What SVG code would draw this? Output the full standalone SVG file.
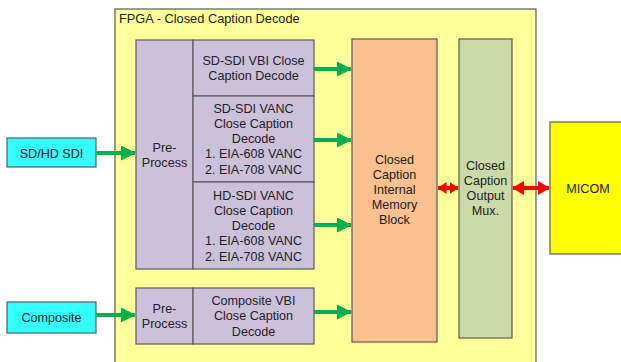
<svg xmlns="http://www.w3.org/2000/svg" width="621" height="362" viewBox="0 0 621 362">
  <style>
    .box { stroke: #5a5a5a; stroke-width: 1.2; }
    .fpga { fill: #ffff99; }
    .pre { fill: #ccc1da; }
    .mem { fill: #fac090; }
    .mux { fill: #ccdaaa; }
    .src { fill: #33ffff; }
    .micom { fill: #ffff00; }
    text { font-family: "Liberation Sans", Arial, sans-serif; font-size: 12.6px; fill: #222; text-anchor: middle; }
    .title { text-anchor: start; font-size: 12.8px; }
    .flow { stroke: #00b050; stroke-width: 4; fill: none; }
    .bus { stroke: #ff0000; stroke-width: 4; fill: none; }
  </style>
  <defs>
    <marker id="greenHead" markerUnits="userSpaceOnUse" markerWidth="15" markerHeight="15" refX="14" refY="7.5" orient="auto">
      <path d="M0,0 L15,7.5 L0,15 Z" fill="#00b050"/>
    </marker>
    <marker id="redHead" markerUnits="userSpaceOnUse" markerWidth="12" markerHeight="14" refX="11" refY="7" orient="auto-start-reverse">
      <path d="M0,0 L12,7 L0,14 Z" fill="#ff0000"/>
    </marker>
    <marker id="redHeadSmall" markerUnits="userSpaceOnUse" markerWidth="9" markerHeight="12" refX="8.5" refY="6" orient="auto-start-reverse">
      <path d="M0,0 L9,6 L0,12 Z" fill="#ff0000"/>
    </marker>
  </defs>

  <!-- FPGA container -->
  <g id="fpga">
    <rect class="box fpga" x="115" y="9" width="421" height="360"/>
    <text class="title" x="119" y="23">FPGA - Closed Caption Decode</text>
  </g>

  <!-- SDI pre-processing and decoders -->
  <g id="sdi-preprocess">
    <rect class="box pre" x="136" y="40" width="57" height="229"/>
    <text x="164.5" y="151.5">Pre-</text>
    <text x="164.5" y="166.5">Process</text>
  </g>
  <g id="sd-vbi-decode">
    <rect class="box pre" x="193" y="40" width="121" height="56"/>
    <text x="253.5" y="64.5">SD-SDI VBI Close</text>
    <text x="253.5" y="79.5">Caption Decode</text>
  </g>
  <g id="sd-vanc-decode">
    <rect class="box pre" x="193" y="96" width="121" height="86"/>
    <text x="253.5" y="112.5">SD-SDI VANC</text>
    <text x="253.5" y="127.8">Close Caption</text>
    <text x="253.5" y="143">Decode</text>
    <text x="253.5" y="158.2">1. EIA-608 VANC</text>
    <text x="253.5" y="173.5">2. EIA-708 VANC</text>
  </g>
  <g id="hd-vanc-decode">
    <rect class="box pre" x="193" y="182" width="121" height="87"/>
    <text x="253.5" y="199.5">HD-SDI VANC</text>
    <text x="253.5" y="214.8">Close Caption</text>
    <text x="253.5" y="230">Decode</text>
    <text x="253.5" y="245.2">1. EIA-608 VANC</text>
    <text x="253.5" y="260.5">2. EIA-708 VANC</text>
  </g>

  <!-- Composite pre-processing and decoder -->
  <g id="composite-preprocess">
    <rect class="box pre" x="136" y="288" width="57" height="56"/>
    <text x="164.5" y="312.5">Pre-</text>
    <text x="164.5" y="327.5">Process</text>
  </g>
  <g id="composite-vbi-decode">
    <rect class="box pre" x="193" y="288" width="121" height="56"/>
    <text x="253.5" y="304.5">Composite VBI</text>
    <text x="253.5" y="320">Close Caption</text>
    <text x="253.5" y="335.5">Decode</text>
  </g>

  <!-- Memory and output mux -->
  <g id="memory-block">
    <rect class="box mem" x="352" y="39" width="85" height="303"/>
    <text x="394.5" y="163.5">Closed</text>
    <text x="394.5" y="178.5">Caption</text>
    <text x="394.5" y="193.5">Internal</text>
    <text x="394.5" y="208.5">Memory</text>
    <text x="394.5" y="224">Block</text>
  </g>
  <g id="output-mux">
    <rect class="box mux" x="459" y="39" width="53" height="299"/>
    <text x="485.5" y="169.5">Closed</text>
    <text x="485.5" y="184.5">Caption</text>
    <text x="485.5" y="199.5">Output</text>
    <text x="485.5" y="214.5">Mux.</text>
  </g>

  <!-- External blocks -->
  <g id="sd-hd-sdi">
    <rect class="box src" x="7" y="138" width="89" height="29"/>
    <text x="51.5" y="157.5">SD/HD SDI</text>
  </g>
  <g id="composite">
    <rect class="box src" x="7" y="302" width="89" height="31"/>
    <text x="51.5" y="321.5">Composite</text>
  </g>
  <g id="micom">
    <rect class="box micom" x="550" y="122" width="80" height="132"/>
    <text x="588" y="192.5">MICOM</text>
  </g>

  <!-- Connectors -->
  <g id="connectors">
    <line class="flow" x1="96" y1="153" x2="135" y2="153" marker-end="url(#greenHead)"/>
    <line class="flow" x1="96" y1="315" x2="135" y2="315" marker-end="url(#greenHead)"/>
    <line class="flow" x1="314" y1="69" x2="351" y2="69" marker-end="url(#greenHead)"/>
    <line class="flow" x1="314" y1="140" x2="351" y2="140" marker-end="url(#greenHead)"/>
    <line class="flow" x1="314" y1="225" x2="351" y2="225" marker-end="url(#greenHead)"/>
    <line class="flow" x1="314" y1="312" x2="351" y2="312" marker-end="url(#greenHead)"/>
    <line class="bus" x1="438" y1="188" x2="458" y2="188" marker-start="url(#redHeadSmall)" marker-end="url(#redHeadSmall)"/>
    <line class="bus" x1="513" y1="188" x2="549" y2="188" marker-start="url(#redHead)" marker-end="url(#redHead)"/>
  </g>
</svg>
